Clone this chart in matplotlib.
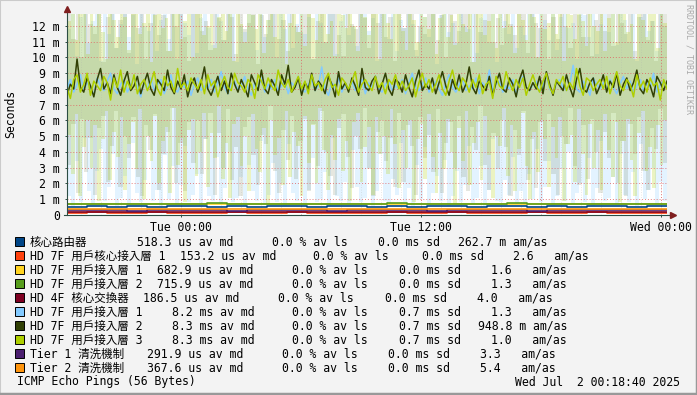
import numpy as np
import matplotlib
matplotlib.use("Agg")
import matplotlib.pyplot as plt
from matplotlib.patches import Rectangle
from matplotlib.lines import Line2D

plt.rcParams['font.family'] = ['DejaVu Sans Mono', 'Noto Sans CJK TC']

# ---- data (milliseconds) ----
SPAN_H = 30.0                      # last 30 hours, start Mon 18:18:40
tick_hours = [5.689, 17.689, 29.689]
tick_labels = ["Tue 00:00", "Tue 12:00", "Wed 00:00"]

names = ["核心路由器", "HD 7F 用戶核心接入層 1", "HD 7F 用戶接入層 1", "HD 7F 用戶接入層 2",
         "HD 4F 核心交換器", "HD 7F 用戶接入層 1", "HD 7F 用戶接入層 2", "HD 7F 用戶接入層 3",
         "Tier 1 清洗機制", "Tier 2 清洗機制"]
colors = ["#004586", "#ff420e", "#ffd320", "#579d1c", "#7e0021",
          "#83caff", "#314004", "#aecf00", "#4b1f6f", "#ff950e"]

core_router = [0.53, 0.55, 0.52, 0.56, 0.53, 0.54, 0.57, 0.52, 0.55, 0.53, 0.56, 0.54, 0.52, 0.55, 0.57,
               0.53, 0.54, 0.52, 0.56, 0.55, 0.53, 0.54, 0.57, 0.52, 0.55, 0.53, 0.56, 0.54, 0.52, 0.55]
hd7f_core1 = [0.15, 0.16, 0.15, 0.15, 0.16, 0.15, 0.14, 0.15, 0.16, 0.15, 0.15, 0.16, 0.15, 0.15, 0.14,
              0.15, 0.16, 0.15, 0.15, 0.16, 0.15, 0.15, 0.14, 0.16, 0.15, 0.15, 0.16, 0.15, 0.15, 0.15]
hd7f_acc1 = [0.68, 0.69, 0.68, 0.67, 0.69, 0.68, 0.70, 0.68, 0.67, 0.69, 0.68, 0.68, 0.70, 0.67, 0.68,
             0.69, 0.68, 0.67, 0.69, 0.68, 0.70, 0.68, 0.67, 0.69, 0.68, 0.68, 0.69, 0.67, 0.68, 0.69]
hd7f_acc2 = [0.72, 0.70, 0.73, 0.71, 0.72, 0.70, 0.71, 0.74, 0.72, 0.70, 0.71, 0.73, 0.72, 0.71, 0.70,
             0.72, 0.74, 0.71, 0.70, 0.72, 0.71, 0.73, 0.78, 0.72, 0.70, 0.71, 0.73, 0.72, 0.71, 0.72]
hd4f_core = [0.19, 0.18, 0.19, 0.19, 0.18, 0.19, 0.20, 0.19, 0.18, 0.19, 0.19, 0.18, 0.19, 0.20, 0.19,
             0.18, 0.19, 0.19, 0.18, 0.19, 0.20, 0.19, 0.18, 0.19, 0.19, 0.18, 0.19, 0.19, 0.20, 0.19]
tier1 = [0.29, 0.30, 0.29, 0.28, 0.29, 0.30, 0.29, 0.29, 0.28, 0.30, 0.29, 0.29, 0.30, 0.28, 0.29,
         0.29, 0.30, 0.29, 0.28, 0.29, 0.30, 0.29, 0.29, 0.28, 0.30, 0.29, 0.29, 0.30, 0.29, 0.29]
tier2 = [0.37, 0.36, 0.37, 0.38, 0.37, 0.36, 0.37, 0.37, 0.38, 0.36, 0.37, 0.37, 0.36, 0.38, 0.37,
         0.37, 0.36, 0.37, 0.38, 0.37, 0.36, 0.37, 0.37, 0.38, 0.37, 0.36, 0.37, 0.37, 0.38, 0.37]

# the three ~8 ms targets: median line + smoke low/high
lb_md = [8.0, 8.6, 7.8, 8.3, 8.9, 7.9, 8.4, 8.1, 7.6, 8.7, 8.2, 7.9, 8.5, 9.0, 8.0, 7.7, 8.3, 8.6, 7.8, 8.2,
         8.8, 8.1, 7.5, 8.4, 8.0, 8.7, 7.9, 8.3, 8.6, 7.7, 8.2, 8.9, 8.0, 7.8, 8.4, 8.1, 8.5, 7.6, 8.3, 8.7,
         7.9, 8.2, 8.0, 8.6, 7.8, 8.4, 9.1, 8.1, 7.7, 8.3, 8.5, 7.9, 8.2, 8.8, 8.0, 7.6, 8.4, 8.1, 8.7, 7.8,
         8.3, 8.0, 8.6, 7.9, 8.2, 8.5, 7.7, 8.4, 8.1, 8.8, 8.0, 7.8, 8.3, 8.6, 7.9, 8.2, 9.4, 8.0, 7.6, 8.4,
         8.1, 8.7, 7.8, 8.3, 8.0, 8.5, 7.9, 8.2, 8.6, 7.7, 8.4, 8.1, 8.8, 8.0, 7.8, 8.3, 8.5, 7.9, 8.2, 8.0,
         8.6, 7.7, 8.4, 9.0, 8.1, 7.9, 8.3, 8.7, 7.8, 8.2, 8.5, 8.0, 7.6, 8.4, 8.9, 8.1, 7.8, 8.3, 8.6, 7.9,
         8.2, 8.0, 8.7, 7.7, 8.4, 8.1, 9.2, 7.9, 8.3, 8.5, 7.8, 8.2, 8.0, 8.6, 7.6, 8.4, 8.8, 8.1, 7.9, 8.3,
         8.5, 7.8, 8.2, 8.9, 8.0, 7.7, 8.4, 8.6, 8.1, 7.9, 8.3, 9.5, 8.0, 7.8, 8.5, 8.2, 7.6, 8.7, 8.3, 8.0,
         8.4, 7.9, 8.6, 8.1, 7.7, 8.3, 8.8, 8.0, 8.5, 7.8, 8.2, 8.6, 7.9, 8.4, 8.1, 9.0, 7.8, 8.3, 8.5, 8.1]
lb_hi = [11.8, 13.2, 10.1, 12.6, 14.0, 10.9, 12.3, 13.7, 9.8, 12.9, 11.5, 13.4, 10.6, 12.1, 14.1, 11.3,
         12.7, 9.6, 13.6, 12.0, 11.7, 13.0, 10.4, 12.4, 13.9, 11.2, 12.8, 9.9, 13.3, 12.2, 11.4, 14.0,
         10.3, 12.5, 13.1, 11.9, 10.8, 13.8, 12.3, 11.1, 12.9, 13.5, 9.7, 12.0, 11.6, 14.2, 12.7, 10.5,
         13.0, 11.3, 12.4, 13.7, 10.0, 12.8, 11.8, 13.3, 10.6, 12.1, 14.0, 11.5, 12.6, 9.9, 13.4, 12.2,
         11.0, 13.9, 12.9, 10.2, 12.3, 13.6, 11.4, 12.0, 10.7, 13.1, 14.1, 11.7, 12.5, 9.8, 13.2, 12.8,
         11.2, 13.8, 10.4, 12.4, 11.9, 13.5, 12.1, 10.1, 14.0, 12.6, 11.3, 13.0, 9.6, 12.7, 13.4, 11.6,
         12.2, 10.9, 13.7, 12.0, 11.8, 13.1, 10.3, 12.5, 14.2, 11.0, 12.9, 9.7, 13.6, 12.3, 11.5, 13.9,
         10.6, 12.0, 11.4, 13.3, 12.8, 10.0, 14.1, 12.4, 11.1, 13.0, 10.5, 12.6, 13.7, 11.9, 12.2, 9.9,
         13.5, 12.7, 11.3, 14.0, 10.2, 12.1, 13.2, 11.6, 12.9, 10.8, 13.8, 12.4, 11.0, 13.4, 9.8, 12.6,
         14.1, 11.7, 12.3, 10.4, 13.1, 12.0]
lb_lo = [1.2, 0.6, 3.4, 0.8, 4.9, 1.5, 0.7, 2.8, 4.2, 0.9, 1.8, 3.9, 0.6, 1.1, 2.5, 0.7, 4.6, 1.4, 0.8, 2.2,
         5.0, 0.9, 1.6, 0.6, 3.8, 1.0, 3.1, 0.7, 1.9, 4.4, 0.8, 1.3, 2.6, 0.6, 4.8, 1.2, 0.9, 3.7, 0.7, 1.7,
         4.0, 0.8, 1.1, 2.4, 0.6, 3.2, 1.5, 0.9, 4.7, 0.7, 1.3, 3.3, 0.8, 2.0, 0.6, 4.5, 1.4, 0.9, 2.9, 0.7,
         1.6, 3.6, 0.8, 1.0, 2.7, 0.6, 4.9, 1.2, 0.9, 2.1, 0.7, 4.1, 1.8, 0.8, 1.1, 3.0, 0.6, 1.5, 3.9, 0.9,
         0.7, 2.3, 1.3, 4.6, 0.8, 1.7, 0.6, 3.2, 1.0, 4.3, 0.7, 1.4, 2.5, 0.9, 3.5, 0.6, 1.2, 2.8, 0.8, 1.9,
         4.4, 0.7, 1.1, 3.1, 0.6, 1.6, 4.8, 0.9, 0.8, 2.2, 1.3, 3.7, 0.7, 1.5, 0.6, 2.6, 1.0, 4.2, 0.8, 1.8,
         3.4, 0.6, 1.2, 2.9, 0.9, 4.0, 0.7, 1.4, 2.0, 0.8, 3.6, 0.6, 1.7, 4.7, 0.9, 1.1, 2.4, 0.7, 3.9, 1.3,
         0.8, 2.7, 0.6, 4.5, 1.0, 1.6, 3.0, 0.7, 2.1, 0.9]

dg_md = [7.6, 8.3, 8.0, 9.9, 8.1, 7.8, 8.7, 8.2, 7.5, 8.6, 9.3, 8.0, 8.4, 7.7, 8.9, 8.1, 7.6, 8.5, 9.1, 7.9,
         8.2, 8.8, 7.7, 8.4, 9.0, 8.0, 7.6, 8.6, 8.3, 7.9, 9.2, 8.1, 7.7, 8.5, 8.0, 8.9, 7.5, 8.3, 8.7, 7.8,
         8.4, 9.4, 8.0, 7.6, 8.2, 8.8, 7.9, 8.5, 7.7, 9.0, 8.3, 7.8, 8.6, 8.1, 7.5, 8.9, 8.4, 7.9, 9.2, 8.0,
         7.7, 8.6, 8.2, 7.6, 8.9, 8.3, 9.5, 7.8, 8.1, 8.7, 7.6, 8.4, 8.0, 9.0, 7.9, 8.5, 8.2, 7.7, 8.8, 8.3,
         7.5, 9.1, 8.0, 8.4, 7.8, 8.7, 8.2, 7.6, 9.3, 8.1, 7.9, 8.5, 8.8, 7.7, 8.3, 9.0, 8.0, 7.6, 8.6, 8.4,
         7.8, 8.9, 8.1, 7.5, 8.5, 9.2, 7.9, 8.3, 8.0, 8.7, 7.7, 8.4, 9.1, 8.2, 7.6, 8.6, 8.0, 8.9, 7.8, 8.3,
         9.4, 8.1, 7.7, 8.5, 8.2, 7.9, 8.8, 7.6, 8.4, 9.0, 8.0, 7.8, 8.7, 8.3, 7.5, 8.6, 9.2, 8.1, 7.9, 8.4,
         8.0, 8.8, 7.7, 9.1, 8.3, 7.6, 8.5, 8.2, 7.9, 8.9, 8.1, 7.5, 8.6, 9.3, 8.0, 7.8, 8.4, 8.7, 7.7, 8.2,
         8.9, 7.8, 8.5, 8.1, 9.0, 7.6, 8.3, 8.7, 7.9, 8.4, 9.2, 8.0, 7.7, 8.6, 8.2, 7.5, 8.8, 8.4, 7.9, 8.5]
dg_hi = [13.5, 11.2, 12.9, 10.0, 14.0, 12.1, 11.5, 13.8, 9.7, 12.6, 13.2, 10.6, 12.4, 14.1, 10.3, 12.8,
         11.9, 13.6, 9.9, 12.2, 13.9, 11.4, 12.7, 10.4, 13.1, 12.0, 14.2, 11.3, 9.8, 12.9, 13.4, 11.7,
         12.3, 10.5, 13.7, 12.5, 11.1, 14.0, 12.6, 10.2, 13.3, 11.8, 12.2, 13.8, 9.6, 12.7, 11.5, 13.0,
         14.1, 11.2, 12.4, 10.4, 13.5, 12.0, 11.6, 13.9, 12.8, 9.9, 12.3, 13.6, 11.0, 12.9, 14.0, 11.4,
         10.1, 13.2, 12.1, 11.8, 13.7, 12.5, 10.6, 13.0, 12.2, 14.2, 11.3, 12.6, 9.8, 13.4, 11.9, 12.8,
         13.8, 10.5, 12.0, 11.5, 13.3, 14.0, 11.1, 12.7, 10.0, 13.6, 12.3, 11.7, 13.1, 12.9, 9.7, 13.9,
         11.6, 12.4, 13.2, 11.0, 12.5, 10.8, 13.5, 12.1, 11.4, 14.1, 12.8, 10.3, 13.0, 12.2, 11.9, 13.7,
         9.9, 12.6, 11.2, 13.4, 12.0, 10.6, 14.0, 12.7, 11.3, 13.1, 10.1, 12.4, 13.8, 11.7, 12.9, 10.7,
         13.3, 12.2, 11.5, 14.2, 10.4, 12.6, 13.6, 11.1, 12.3, 9.8, 13.0, 12.8]
dg_lo = [3.2, 5.8, 1.4, 6.1, 2.7, 4.9, 1.3, 5.5, 6.3, 2.1, 4.4, 6.6, 1.8, 5.0, 3.6, 6.2, 2.4, 1.2, 5.7, 4.1,
         6.4, 1.6, 3.9, 5.3, 6.8, 2.0, 4.6, 1.5, 5.9, 3.3, 6.0, 2.6, 4.8, 6.5, 1.3, 5.2, 3.0, 6.7, 2.2, 4.3,
         1.2, 5.6, 6.2, 3.8, 1.9, 5.1, 4.5, 6.9, 2.8, 1.4, 5.4, 3.5, 6.3, 2.3, 4.7, 6.1, 1.5, 5.8, 3.1, 6.6,
         4.0, 2.5, 1.3, 5.5, 6.4, 3.7, 1.7, 5.0, 4.2, 6.8, 2.9, 1.2, 5.3, 6.0, 3.4, 4.9, 1.8, 6.5, 2.1, 5.7,
         4.4, 1.3, 6.2, 3.6, 5.1, 2.7, 6.7, 1.4, 4.6, 5.9, 3.0, 6.3, 2.4, 1.5, 5.6, 4.1, 6.9, 3.2, 1.6, 5.2,
         2.9, 6.0, 4.3, 1.2, 5.4, 3.8, 6.6, 2.2, 4.8, 1.7, 5.9, 3.4, 6.4, 2.6, 1.3, 5.0, 4.5, 6.8, 3.1, 1.9,
         5.7, 2.3, 6.1, 4.0, 1.4, 5.3, 3.6, 6.5, 2.0, 4.7, 1.2, 5.8, 3.9, 6.2, 2.8, 1.6, 5.5, 4.2, 6.7, 3.3]

lm_md = [8.1, 7.4, 8.6, 8.9, 7.8, 8.3, 9.0, 7.6, 8.5, 8.2, 7.9, 8.8, 8.4, 7.3, 8.7, 8.1, 9.2, 7.8, 8.5, 8.0,
         8.9, 7.7, 8.3, 8.6, 7.9, 8.4, 9.1, 8.0, 7.6, 8.8, 8.2, 8.5, 7.8, 9.3, 8.1, 8.4, 7.9, 8.7, 8.3, 8.0,
         8.6, 7.7, 8.9, 8.2, 8.5, 7.5, 8.3, 8.8, 8.1, 7.9, 9.0, 8.4, 8.2, 7.8, 8.6, 8.3, 7.4, 8.9, 8.5, 8.0,
         8.7, 8.2, 7.9, 9.2, 8.4, 8.1, 8.6, 7.8, 8.3, 8.8, 8.0, 8.5, 7.7, 8.9, 8.2, 8.4, 7.9, 8.6, 9.0, 8.1,
         8.3, 7.6, 8.7, 8.4, 8.0, 8.5, 9.1, 7.8, 8.3, 8.6, 8.2, 7.9, 8.8, 8.1, 8.4, 7.7, 8.6, 8.3, 8.9, 8.0,
         8.5, 7.9, 8.2, 8.7, 7.5, 8.4, 9.0, 8.1, 8.6, 7.8, 8.3, 8.9, 8.0, 7.6, 8.5, 9.2, 8.2, 7.9, 8.7, 8.4,
         7.8, 8.6, 8.1, 8.9, 7.7, 8.3, 8.5, 7.4, 8.8, 8.2, 8.0, 9.1, 8.4, 7.9, 8.6, 8.1, 8.7, 7.6, 8.3, 8.9,
         8.2, 7.8, 8.5, 9.0, 8.1, 7.7, 8.6, 8.3, 8.8, 7.9, 8.4, 8.0, 9.3, 8.2, 7.6, 8.7, 8.5, 7.9, 8.3, 8.6,
         8.0, 8.8, 7.7, 8.4, 9.1, 8.2, 7.9, 8.6, 8.3, 7.5, 8.9, 8.1, 8.5, 7.8, 8.7, 8.2, 8.4, 7.3, 8.6, 8.0]
lm_hi = [12.3, 14.0, 11.1, 13.5, 12.8, 10.2, 13.1, 12.0, 14.3, 11.6, 9.9, 13.7, 12.4, 11.3, 13.9, 12.6,
         10.5, 12.9, 14.1, 11.5, 12.2, 13.4, 9.7, 12.7, 13.8, 11.9, 12.5, 10.4, 14.0, 13.0, 11.2, 12.3,
         13.6, 10.0, 12.8, 14.2, 11.4, 12.0, 13.3, 10.6, 12.6, 13.9, 11.7, 12.9, 9.8, 13.5, 12.1, 11.0,
         14.1, 12.7, 11.8, 13.2, 10.3, 12.4, 13.7, 11.3, 12.8, 14.0, 9.6, 12.2, 13.4, 11.6, 12.9, 10.7,
         13.8, 12.5, 11.1, 13.0, 14.2, 11.5, 12.3, 10.1, 13.6, 12.7, 11.9, 13.3, 12.0, 10.4, 14.0, 12.6,
         11.4, 13.1, 12.8, 9.9, 13.7, 12.2, 11.2, 14.1, 12.9, 11.7, 10.5, 13.5, 12.4, 11.0, 13.9, 12.6,
         11.8, 13.2, 10.2, 12.5, 14.0, 11.3, 12.7, 10.8, 13.4, 12.1, 11.6, 13.8, 9.7, 12.9, 13.1, 11.4,
         12.3, 14.2, 10.6, 12.8, 11.9, 13.6, 12.0, 10.3, 13.3, 12.4, 11.1, 14.0, 12.6, 10.0, 13.7, 11.8,
         12.2, 13.0, 11.5, 12.9, 9.8, 13.5, 12.7, 11.2, 14.1, 12.3, 10.7, 13.2, 12.0, 11.7, 13.9, 10.4,
         12.5, 13.4, 11.0, 12.8, 14.0, 11.6, 12.1, 9.9, 13.6, 12.4, 11.3, 13.1, 12.9, 10.6, 13.8, 12.2]
lm_lo = [5.1, 2.6, 6.4, 1.2, 4.3, 6.0, 3.0, 5.7, 0.9, 4.8, 6.6, 2.2, 5.3, 3.7, 6.2, 1.6, 4.5, 5.9, 2.9, 6.7,
         1.0, 5.0, 3.4, 6.3, 2.0, 4.7, 5.6, 1.4, 6.8, 3.2, 4.9, 0.8, 5.4, 6.1, 2.5, 4.0, 6.5, 1.8, 5.2, 3.6,
         6.9, 2.3, 4.6, 1.1, 5.8, 6.2, 3.1, 5.0, 1.5, 6.4, 4.2, 2.7, 5.5, 0.7, 6.0, 3.8, 4.9, 1.9, 6.6, 2.4,
         5.3, 4.4, 1.2, 6.3, 3.3, 5.7, 2.0, 6.8, 4.1, 1.6, 5.1, 3.5, 6.1, 2.8, 4.7, 0.9, 5.9, 6.5, 2.1, 4.3,
         5.6, 1.3, 6.2, 3.9, 5.0, 2.6, 6.7, 4.5, 1.7, 5.4, 3.0, 6.0, 0.8, 4.8, 5.8, 2.3, 6.4, 3.7, 1.4, 5.2,
         2.9, 6.1, 4.0, 0.7, 5.5, 3.4, 6.6, 1.9, 4.6, 5.9, 2.2, 6.3, 3.8, 1.1, 5.0, 4.4, 6.8, 2.5, 5.7, 1.5,
         4.2, 6.5, 3.1, 1.0, 5.3, 2.7, 6.0, 4.8, 1.8, 5.6, 3.6, 6.2, 0.9, 4.5, 5.1, 2.1, 6.7, 3.9, 1.3, 5.8,
         3.0, 5.4, 1.6, 6.4, 4.1, 2.4, 5.9, 0.8, 4.7, 6.1, 3.5, 1.2, 5.2, 6.6, 2.8, 4.3, 1.7, 5.7, 3.2, 6.0]

# legend statistics columns
col_md = ["518.3 us av md", "153.2 us av md", "682.9 us av md", "715.9 us av md", "186.5 us av md",
          "8.2 ms av md", "8.3 ms av md", "8.3 ms av md", "291.9 us av md", "367.6 us av md"]
col_ls = ["0.0 % av ls"] * 10
col_sd = ["0.0 ms sd"] * 5 + ["0.7 ms sd"] * 3 + ["0.0 ms sd"] * 2
col_am = ["262.7 m am/as", "2.6   am/as", "1.6   am/as", "1.3   am/as", "4.0   am/as",
          "1.3   am/as", "948.8 m am/as", "1.0   am/as", "3.3   am/as", "5.4   am/as"]

# ---- layout (pixels) ----
W, H = 697, 395
x_md = [136.7, 180, 156.7, 156.7, 143.3, 171.7, 171.7, 171.7, 146.7, 146.7]
x_ls = [271.7, 313.3, 291.7, 291.7, 278.3, 291.7, 291.7, 291.7, 281.7, 281.7]
x_sd = [378.3, 421.7, 399.3, 399.3, 385, 399.3, 399.3, 399.3, 388.3, 388.3]
x_am = [457.7, 513.3, 491, 491, 476.7, 491, 478.3, 491, 480, 480]


def fx(px):
    return px / W


def fy(py):
    return 1 - py / H


def steps(vals):
    x = np.linspace(0, SPAN_H, len(vals) + 1)
    return x, np.append(vals, vals[-1])


fig = plt.figure(figsize=(W / 100, H / 100), dpi=100, facecolor='#f3f3f3')
ax = fig.add_axes([fx(67), fy(215), 600 / W, 201 / H])
ax.set_facecolor('white')
ax.set_xlim(0, SPAN_H)
ax.set_ylim(0, 12.76)

# smoke
for lo, hi, c, a in [(lb_lo, lb_hi, colors[5], 0.22), (dg_lo, dg_hi, colors[6], 0.12),
                     (lm_lo, lm_hi, colors[7], 0.24)]:
    x, l = steps(lo)
    _, h = steps(hi)
    ax.fill_between(x, l, h, step='post', color=c, alpha=a, lw=0, zorder=1)

# grid
for hr in np.arange(0.689, SPAN_H, 1.0):
    ax.axvline(hr, color='#b0b0b0', lw=0.6, ls=(0, (1, 2)), alpha=0.4, zorder=2)
for hr in np.arange(5.689, SPAN_H, 6.0):
    ax.axvline(hr, color='#e06060', lw=0.7, ls=(0, (1, 2)), alpha=0.8, zorder=2.1)
for v in range(1, 13):
    ax.axhline(v, color='#e06060', lw=0.7, ls=(0, (1, 2)), alpha=0.8, zorder=2.1)

# median lines
low_series = [core_router, hd7f_core1, hd7f_acc1, hd7f_acc2, hd4f_core]
for vals, c in zip(low_series, colors[:5]):
    x, y = steps(vals)
    ax.step(x, y, where='post', color=c, lw=1.2, zorder=3)
for vals, c in zip([lb_md, dg_md, lm_md], colors[5:8]):
    ax.plot(np.linspace(0, SPAN_H, len(vals)), vals, color=c, lw=1.1, zorder=3)
for vals, c in zip([tier1, tier2], colors[8:]):
    x, y = steps(vals)
    ax.step(x, y, where='post', color=c, lw=1.2, zorder=3)

# axes
for s in ax.spines.values():
    s.set_visible(False)
axis_c = '#2c4d43'
arrow_c = '#7f1f1f'
ax.plot([0, 0], [0, 1.02], color=axis_c, lw=0.8, transform=ax.transAxes, clip_on=False, zorder=4)
ax.plot([-0.005, 1.008], [0, 0], color=axis_c, lw=0.8, transform=ax.transAxes, clip_on=False, zorder=4)
ax.plot(0, 1.025, marker='^', ms=4, color=arrow_c, transform=ax.transAxes, clip_on=False, zorder=5)
ax.plot(1.01, 0, marker='>', ms=4, color=arrow_c, transform=ax.transAxes, clip_on=False, zorder=5)

ax.set_yticks(range(13))
ax.set_yticklabels(['0'] + ['%d m' % i for i in range(1, 13)])
ax.set_xticks(tick_hours)
ax.set_xticklabels(tick_labels)
ax.tick_params(axis='both', length=1.5, width=0.7, color=axis_c, labelsize=8.3, labelcolor='black')
ax.tick_params(axis='y', pad=3.6)
ax.tick_params(axis='x', pad=2.5)

# texts
fig.text(fx(11), fy(114), 'Seconds', rotation=90, ha='center', va='center', fontsize=8.3)
fig.text(fx(689), fy(4), 'RRDTOOL / TOBI OETIKER', rotation=270, ha='center', va='top',
         fontsize=6, color='#aaaaaa')

for i in range(10):
    cy = 241.3 + 14.0 * i
    fig.add_artist(Rectangle((fx(15), fy(cy + 4.5)), 9 / W, 9 / H, transform=fig.transFigure,
                             facecolor=colors[i], edgecolor='black', lw=0.7))
    base = fy(cy + 4.2)
    fig.text(fx(30), base, names[i], fontsize=8.3, va='baseline')
    fig.text(fx(x_md[i]), base, col_md[i], fontsize=8.3, va='baseline')
    fig.text(fx(x_ls[i]), base, col_ls[i], fontsize=8.3, va='baseline')
    fig.text(fx(x_sd[i]), base, col_sd[i], fontsize=8.3, va='baseline')
    fig.text(fx(x_am[i]), base, col_am[i], fontsize=8.3, va='baseline')

fig.text(fx(16.7), fy(385.5), 'ICMP Echo Pings (56 Bytes)', fontsize=8.3, va='baseline')
fig.text(fx(680), fy(385.5), 'Wed Jul  2 00:18:40 2025', fontsize=8.3, va='baseline', ha='right')

# frame shading
fig.add_artist(Line2D([0, 0, 1], [0, 1, 1], transform=fig.transFigure, color='#cbcbcb', lw=1.5))
fig.add_artist(Line2D([0, 1, 1], [0.002, 0.002, 1], transform=fig.transFigure, color='#999999', lw=2.5))

fig.savefig('out.png', dpi=100, facecolor=fig.get_facecolor())
